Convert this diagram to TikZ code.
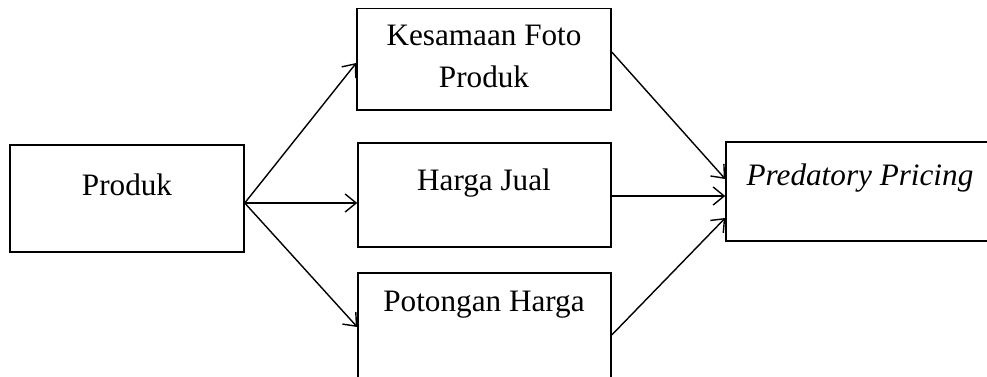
\documentclass[tikz,border=0pt]{standalone}
\usepackage{fontspec}
\setmainfont{Liberation Serif}
\usetikzlibrary{arrows.meta}
\begin{document}
\begin{tikzpicture}[x=0.5pt,y=-0.5pt,
  box/.style={draw,line width=0.75pt,rectangle,inner sep=0pt},
  lbl/.style={inner sep=0pt,font=\fontsize{15.6}{21}\selectfont,align=center},
  conn/.style={line width=0.7pt,-{Straight Barb[length=5.5pt,width=9pt,line width=0.7pt]}}]
\useasboundingbox (0,0) rectangle (987,376);
\clip (0,8.5) rectangle (987,376);
% boxes
\node[box,minimum width=117pt,minimum height=53.5pt] (produk) at (127,198.5) {};
\node[box,minimum width=127pt,minimum height=51pt] (foto) at (484,59) {};
\node[box,minimum width=126.5pt,minimum height=52pt] (harga) at (484.5,195) {};
\node[box,minimum width=126.5pt,minimum height=58.5pt] (potongan) at (484.5,331.5) {};
\node[box,minimum width=137pt,minimum height=49.5pt] (pred) at (863,191.5) {};
% texts
\node[lbl] (tprodruk) at (127,185) {Produk};
\node[lbl] (tfoto) at (484,56) {Kesamaan Foto\\Produk};
\node[lbl] (tharga) at (484,183) {Harga Jual};
\node[lbl] (tpot) at (484,305) {Potongan Harga};
\node[lbl] (tpred) at (860,178) {\itshape Predatory Pricing};
% connectors
\draw[conn] ([yshift=-2.25pt]produk.east) -- ([yshift=-2pt]foto.west);
\draw[conn] ([yshift=-2.25pt]produk.east) -- ([yshift=-4pt]harga.west);
\draw[conn] ([yshift=-2.25pt]produk.east) -- ([yshift=2.25pt]potongan.west);
\draw[conn] ([yshift=3.5pt]foto.east) -- ([yshift=6.25pt]pred.west);
\draw[conn] ([yshift=-0.5pt]harga.east) -- ([yshift=-2.25pt]pred.west);
\draw[conn] ([yshift=-1.75pt]potongan.east) -- ([yshift=-13.25pt]pred.west);
\end{tikzpicture}
\end{document}
